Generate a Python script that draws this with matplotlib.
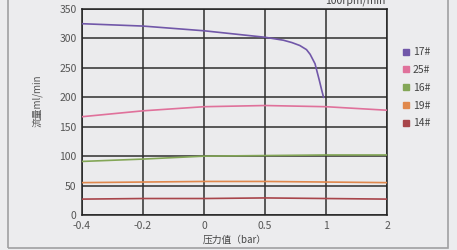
import numpy as np
import matplotlib
matplotlib.use("Agg")
import matplotlib.pyplot as plt
from matplotlib.patches import Rectangle

plt.rcParams['font.family'] = ['Noto Sans CJK SC', 'DejaVu Sans']

# 压力值刻度 (等间距显示)
pressure_ticks = [-0.4, -0.2, 0, 0.5, 1, 2]
tick_labels = ['-0.4', '-0.2', '0', '0.5', '1', '2']

# 各泵流量数据
p_17 = [-0.4, -0.2, 0, 0.5, 0.65, 0.72, 0.785, 0.84, 0.87, 0.91, 0.945, 0.965, 0.98]
q_17 = [325, 321, 313, 302, 297, 293, 288, 281, 273, 257, 229, 212, 200]

p_all = [-0.4, -0.2, 0, 0.5, 1, 2]
q_25 = [167, 177, 184, 186, 184, 178]
q_16 = [91, 95, 100, 101, 102, 102]
q_19 = [55, 56, 57, 57, 56, 55]
q_14 = [27, 28, 28, 29, 28, 27]

names = ['17#', '25#', '16#', '19#', '14#']
colors = ['#7157a9', '#e0719b', '#83a657', '#e0884c', '#a8454a']

# 压力值 -> 等间距位置
pos = np.arange(len(pressure_ticks))
def to_pos(p):
    return np.interp(p, pressure_ticks, pos)

fig = plt.figure(figsize=(4.57, 2.5), dpi=100, facecolor='#ececee')
fig.patches.append(Rectangle((8 / 457, 2 / 250), 440 / 457, 260 / 250,
                             transform=fig.transFigure, fill=False,
                             edgecolor='#a0a0a2', lw=1.2))
ax = fig.add_axes([82 / 457, 35 / 250, 305 / 457, 206 / 250])
ax.set_facecolor('#ebebed')

series = [(p_17, q_17), (p_all, q_25), (p_all, q_16), (p_all, q_19), (p_all, q_14)]
for (p, q), name, c in zip(series, names, colors):
    ax.plot(to_pos(p), q, color=c, lw=1.2, label=name, zorder=3)

ax.set_xlim(0, len(pos) - 1)
ax.set_ylim(0, 350)
ax.set_xticks(pos)
ax.set_xticklabels(tick_labels)
ax.set_yticks(range(0, 351, 50))
ax.grid(True, color='#2e2e2e', lw=1.1)
ax.set_axisbelow(True)
ax.tick_params(length=0, labelsize=7.5, labelcolor='#555555', pad=4)
for s in ax.spines.values():
    s.set_color('#222222')
    s.set_linewidth(1.1)

ax.set_xlabel('压力值（bar）', fontsize=7, color='#444444', labelpad=3)
ax.set_ylabel('流量ml/min', fontsize=7, color='#555555')
ax.yaxis.set_label_coords(-0.128, 0.555)

fig.text(385 / 457, 247 / 250, '100rpm/min', ha='right', va='baseline',
         fontsize=7.5, color='#444444')

handles = [plt.Line2D([], [], marker='s', ls='', color=c, markersize=4) for c in colors]
fig.legend(handles, names, loc='upper left', bbox_to_anchor=(396 / 457, 208 / 250),
           frameon=False, fontsize=7.5, labelcolor='#444444', handletextpad=0.1,
           labelspacing=0.75, borderpad=0, handlelength=1)

fig.savefig('out.png', dpi=100, facecolor=fig.get_facecolor())
